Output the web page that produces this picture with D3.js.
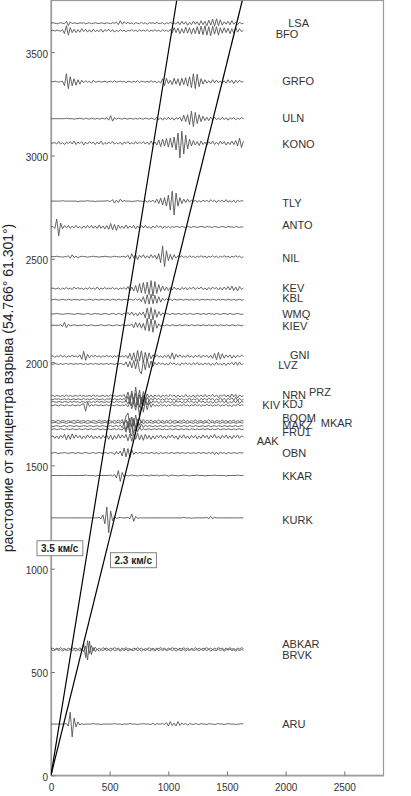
<!DOCTYPE html>
<html><head><meta charset="utf-8">
<script src="https://cdn.jsdelivr.net/npm/d3@7"></script>
<style>
html,body{margin:0;padding:0;background:#fff;}
svg{display:block;font-family:"Liberation Sans",Arial,sans-serif;}
</style></head>
<body><svg id="c" width="411" height="796"></svg>
<script>
// ---- data ----
const xTicks = [0, 500, 1000, 1500, 2000, 2500];
const yTicks = [0, 500, 1000, 1500, 2000, 2500, 3000, 3500];
const velocities = [3.5, 2.3];
const velocityLabels = ["3.5 км/с", "2.3 км/с"];
const velocityLabelPos = [[74, 1099], [701, 1041]]; // [time s, distance km]
const SAMPLE_DT = 16.4; // s per sample
const AMP = 2.4;        // km per amplitude unit

const stationNames = ["LSA","BFO","GRFO","ULN","KONO","TLY","ANTO","NIL","KEV","KBL","WMQ","KIEV","GNI","LVZ","NRN","PRZ","KIV","KDJ","BOOM","MKAR","MAKZ","FRU1","AAK","OBN","KKAR","KURK","ABKAR","BRVK","ARU"];
const stationDist = [3640,3604,3357,3178,3060,2779,2654,2510,2356,2302,2233,2178,2028,1991,1836,1820,1807,1791,1715,1706,1690,1675,1638,1560,1451,1246,613,606,248];
const labelTime = [2022,1915,1971,1971,1971,1971,1971,1971,1971,1971,1971,1971,2037,1937,1971,2199,1801,1971,1971,2299,1971,1971,1753,1971,1971,1971,1971,1971,1971];
const labelDist = [3642,3589,3358,3179,3054,2770,2665,2506,2360,2310,2235,2173,2033,1985,1840,1853,1791,1795,1727,1703,1694,1662,1618,1560,1448,1235,635,582,247];

const tr_LSA = [0,1,0,-1,0,1,0,-1,4,-5, 3,-1,1,0,-1,1,0,1,-1,0, 1,-1,0,1,0,-1,1,0,-1,1, 0,-1,1,0,2,-3,5,-2,3,-1, 2,-1,1,-2,1,0,-1,2,-1,1, -2,1,0,1,-1,2,-1,0,1,-2, 1,-1,2,-1,1,-2,3,-3,4,-2, 3,-4,2,-3,4,-2,3,-4,5,-3, 4,-5,6,-4,8,-6,9,-5,7,-4, 3,-2,4,-3,5,-2,2,-3,2,-1, 0];
const tr_BFO = [0,1,-1,1,0,-1,2,-6,10,-9, 6,-4,3,-4,2,-3,4,-2,3,-3, 2,-3,3,-2,1,-2,3,-3,2,-1, 3,-2,2,-3,1,-2,2,-1,1,-2, 1,-1,2,-1,1,-2,2,-1,1,-1, 2,-2,1,-1,2,-1,1,-2,2,-1, 1,-2,3,-5,6,-4,5,-6,4,-5, 7,-5,6,-7,5,-6,8,-7,9,-8, 10,-9,8,-10,9,-7,8,-9,6,-5, 6,-4,5,-6,4,-5,6,-3,4,-2, 1];
const tr_GRFO = [0,0,1,0,-1,0,1,-8,16,-14, 10,-8,6,-7,4,-5,3,-2,2,-1, 1,-3,3,-1,0,1,-1,0,1,-1, 0,1,-1,2,-1,0,1,-1,1,-2, 1,0,-1,1,-1,2,-2,1,0,-1, 1,-1,2,-1,1,-2,1,-3,6,-8, 7,-4,3,-6,7,-5,6,-8,7,-6, 8,-9,10,-12,16,-14,15,-10,6,-5, 4,-3,2,-3,4,-2,3,-2,1,-3, 2,-3,4,-2,3,-4,3,-2,3,-1, 0];
const tr_ULN = [0,0,0,0,0,0,0,0,1,0, 0,0,-1,0,0,1,0,-1,1,0, -1,1,0,-1,1,-1,0,1,-1,2, -3,6,-5,2,-1,1,0,-1,1,0, -1,1,0,-1,1,-1,1,0,-1,1, 0,-1,1,0,-2,3,-2,2,-3,2, -2,3,-2,2,-3,2,-1,3,-5,7, -6,8,-12,15,-16,13,-10,8,-6,5, -4,3,-4,3,-2,3,-2,1,-2,3, -2,2,-3,2,-1,2,-2,1,-1,2, 0];
const tr_KONO = [0,0,1,-2,3,-2,1,-3,2,-1, 3,-2,4,-3,2,-1,3,-4,2,-2, 3,-1,2,-3,2,-2,4,-3,1,-2, 2,-1,3,-2,1,-2,2,-3,2,-1, 3,-2,1,-2,3,-2,2,-1,3,-2, 2,-3,4,-3,2,-4,6,-7,8,-6, 9,-8,10,-9,12,-14,20,-30,24,-22, 16,-12,8,-6,5,-4,3,-5,4,-3, 2,-4,3,-2,4,-3,2,-3,4,-2, 3,-4,2,-3,4,-3,5,-6,10,-9, 4];
const tr_TLY = [0,0,0,0,0,0,1,0,0,0, 0,0,0,0,-1,0,0,0,0,1, 0,0,0,-1,0,0,0,0,0,1, 0,-1,3,-4,2,-3,4,-1,1,0, 0,0,-1,0,0,1,0,0,-1,1, -2,1,-1,2,-3,4,-5,6,-8,7, -10,12,-18,20,-28,16,-10,7,-5,4, -3,4,-2,2,-1,2,-2,1,-2,2, -1,2,-2,3,-1,2,-3,2,-1,2, -2,3,-2,1,-2,2,-3,2,-1,1, 0];
const tr_ANTO = [0,1,-3,16,-18,8,-4,3,-2,3, -3,2,-2,3,-2,1,-3,2,-2,3, -2,3,-3,2,-3,4,-3,2,-4,3, -5,7,-6,5,-7,4,-3,2,-3,4, -3,2,-2,3,-4,2,-3,3,-2,3, -2,1,-3,2,-2,3,-1,2,-3,2, -2,1,-2,1,-1,1,0,-1,1,0, -1,1,0,-1,1,0,-1,0,1,0, -1,1,0,0,-1,1,0,-1,0,1, 0,-1,1,0,0,-1,1,0,-1,0, 0];
const tr_NIL = [0,0,0,1,0,0,-1,0,0,2, -3,4,-2,1,-2,0,1,0,0,-1, 0,0,1,0,0,-1,0,0,1,0, 0,-1,0,1,0,0,-1,1,0,-1, 3,-5,6,-3,4,-6,3,-2,4,-3, 2,-3,4,-2,3,-5,6,-12,22,-20, 12,-8,5,-6,4,-3,2,-1,2,-2, 1,-2,2,-1,1,-2,1,-1,2,-1, 1,-2,1,-1,2,-1,1,-2,1,-1, 2,-1,1,-2,1,-1,2,-1,1,-2, 0];
const tr_KEV = [0,1,-1,0,1,-2,1,-1,2,-1, 1,-2,3,-1,2,-1,1,-2,1,-1, 2,-1,1,-2,3,-2,1,-1,2,-1, 1,-1,2,-1,1,-2,1,-1,2,-2, 4,-5,3,-5,6,-8,10,-9,12,-10, 13,-12,16,-15,14,-10,8,-6,5,-4, 3,-4,2,-3,3,-2,1,-3,2,-1, 2,-3,2,-1,3,-2,2,-1,3,-2, 1,-3,2,-2,3,-1,2,-3,2,-3, 3,-2,4,-3,5,-4,3,-5,4,-2, 1];
const tr_KBL = [0,0,1,0,-1,0,1,0,-1,1, 0,-1,1,0,0,-1,1,0,-1,0, 1,0,-1,1,0,-1,1,0,-1,1, 0,-1,1,0,-1,1,0,-1,1,0, -1,1,0,-1,2,-1,2,-4,6,-8, 10,-9,11,-8,9,-7,6,-5,3,-2, 2,-1,1,-2,1,0,-1,1,0,-1, 1,0,-1,1,-1,0,1,-1,0,1, -1,1,0,-1,1,0,-1,1,-1,1, 0,-1,1,0,-1,1,-1,0,1,-1, 0];
const tr_WMQ = [0,0,0,1,0,0,-1,0,0,1, 0,0,-1,0,1,0,0,-1,0,1, 0,-1,0,1,0,0,-1,0,1,0, -1,0,1,0,-1,1,0,-2,2,-1, 3,-2,4,-3,2,-4,3,-2,4,-8, 12,-10,13,-12,9,-7,5,-3,2,-1, 1,0,-1,1,0,-1,1,0,-1,1, 0,-1,1,0,-1,0,1,0,-1,1, 0,-1,1,0,0,-1,1,0,-1,0, 1,0,-1,1,0,-1,0,1,0,-1, 0];
const tr_KIEV = [0,0,0,0,0,1,-2,6,-5,2, -1,0,1,0,-1,0,0,1,0,-1, 0,1,0,-1,0,0,1,0,-1,0, 1,0,-1,0,1,0,-1,1,0,-1, 1,-1,3,-5,6,-4,5,-6,4,-10, 14,-12,13,-14,10,-6,3,-2,1,-1, 1,0,-1,1,0,-1,0,1,-1,0, 1,0,-1,1,0,-1,1,0,-1,1, 0,-1,1,0,-1,1,0,-1,1,0, -1,1,0,-1,1,0,-1,1,0,-1, 0];
const tr_GNI = [0,1,-2,1,-1,2,-1,1,-2,1, -1,2,-1,1,-2,3,-6,10,-8,4, -3,2,-1,2,-1,1,-2,1,-1,2, -1,1,-2,1,-1,2,-1,1,-2,2, -4,6,-8,7,-10,12,-9,11,-12,8, -10,7,-5,3,-2,3,-2,1,-3,2, -2,3,-5,7,-6,4,-2,3,-2,1, -2,3,-2,1,-3,2,-1,2,-3,2, -1,2,-3,2,-4,6,-7,8,-6,5, -4,3,-2,3,-4,2,-3,2,-1,2, 0];
const tr_LVZ = [0,-1,1,0,-1,1,-1,0,1,-1, 1,0,-1,1,-1,1,0,-1,1,-1, 0,1,-1,1,0,-1,1,-1,0,1, -1,1,0,-1,1,-1,1,0,-2,4, -6,5,-8,7,-10,9,-14,-20,8,-12, 10,-8,6,-5,3,-2,3,-1,2,-2, 1,-2,3,-1,2,-2,1,-3,2,-1, 2,-1,1,-2,2,-1,3,-2,1,-2, 2,-1,2,-3,1,-2,3,-2,1,-2, 2,-3,2,-1,3,-2,4,-3,4,-2, 1];
const tr_NRN = [0,1,-1,1,0,-1,1,-1,2,-1, 1,-1,0,1,-1,2,-1,1,-1,0, 1,-1,2,-1,1,-1,0,1,-1,1, -1,2,-1,1,-1,0,1,-1,3,-5, 8,-7,10,-12,18,-10,12,-14,9,-6, 4,-3,2,-3,2,-1,2,-3,2,-1, 2,-2,3,-1,2,-3,2,-2,1,-2, 3,-2,1,-2,2,-3,2,-1,2,-2, 3,-2,2,-1,3,-2,2,-3,2,-1, 3,-2,2,-3,4,-2,3,-4,2,-1, 0];
const tr_PRZ = [0,-1,1,0,1,-1,0,1,-1,1, -1,0,1,-1,1,0,-1,2,-1,1, -1,0,2,-1,1,-1,0,1,-2,1, 0,1,-1,1,0,-1,1,-1,2,-4, 6,-9,11,-8,12,-11,9,-10,8,-5, 4,-3,2,-2,3,-1,2,-2,1,-2, 3,-1,2,-2,1,-3,2,-1,2,-2, 1,-2,3,-2,1,-1,2,-3,2,-1, 2,-2,3,-1,2,-3,1,-2,3,-2, 2,-3,2,-1,3,-2,4,-3,2,-2, 0];
const tr_KIV = [0,1,0,-1,1,0,-1,1,0,-1, 1,-1,2,-1,1,-2,1,0,-1,1, 0,-1,1,-1,2,-1,1,0,-1,1, -1,1,0,-1,2,-1,1,-1,0,2, -4,6,-8,9,-10,8,-11,10,-8,7, -6,4,-3,2,-1,2,-3,1,-2,2, -1,2,-2,1,-3,2,-1,2,-2,1, -2,3,-1,2,-2,1,-2,3,-1,2, -2,1,-2,2,-3,1,-2,2,-1,3, -2,2,-3,1,-2,3,-2,4,-3,1, 0];
const tr_KDJ = [0,-1,1,0,-1,1,0,-1,1,0, -1,1,0,-1,1,-1,2,3,-12,6, -2,1,-1,1,0,-1,1,-1,0,1, -1,1,0,-1,1,0,-1,1,-1,2, -3,5,-7,6,-10,8,-22,12,-14,8, -9,6,-4,3,-2,1,-2,2,-1,1, -2,1,-1,2,-1,1,-2,1,-1,2, -1,1,-2,1,-1,2,-1,1,-2,1, -1,2,-1,1,-2,1,-1,2,-2,1, -1,2,-2,1,-3,2,-2,3,-1,1, 0];
const tr_BOOM = [0,1,-1,0,1,-1,1,0,-1,1, -1,0,1,-1,2,-1,0,1,-1,1, 0,-1,1,0,-1,2,-1,0,1,-1, 1,0,-1,1,-1,2,-1,3,-6,10, 16,-12,8,-10,12,-8,6,-4,3,-2, 2,-1,2,-2,1,-1,2,-1,1,-2, 1,-1,2,-1,0,1,-2,1,-1,2, -1,1,-2,1,-1,2,-1,0,1,-2, 1,-1,2,-1,1,-2,1,0,-1,2, -1,1,-2,1,-1,2,-2,1,-1,1, 0];
const tr_MKAR = [0,0,1,0,-1,0,1,0,-1,0, 1,0,-1,0,1,0,-1,1,0,-1, 0,1,0,-1,0,1,-1,0,1,0, -1,0,1,-1,0,1,-1,1,-3,6, -9,10,-8,9,-10,7,-5,4,-2,1, -1,1,0,-1,1,0,-1,1,0,-1, 1,0,-1,1,-1,0,1,0,-1,1, 0,-1,1,0,-1,1,-1,0,1,-1, 0,1,-1,0,1,-1,1,0,-1,1, 0,-1,1,-1,0,1,-1,0,1,0, 0];
const tr_MAKZ = [0,-1,0,1,0,-1,0,1,-1,0, 1,0,-1,1,0,-1,0,1,0,-1, 1,0,-1,0,1,-1,0,1,0,-1, 0,1,-1,0,1,-1,2,-3,5,-8, 10,-12,-20,12,-10,8,-6,4,-3,2, -1,1,0,-1,1,-1,0,1,-1,0, 1,-1,0,1,-1,0,1,0,-1,1, 0,-1,1,0,-1,1,0,-1,0,1, -1,0,1,-1,0,1,-1,1,0,-1, 1,0,-1,1,-1,0,1,-1,0,1, 0];
const tr_FRU1 = [0,0,1,-1,0,1,0,-1,1,0, -1,1,0,-1,0,1,-1,0,1,-1, 0,1,-1,0,1,0,-1,1,-1,0, 1,-1,0,1,-1,1,0,-2,4,-6, 8,-7,9,-8,6,-5,4,-2,1,-1, 0,1,-1,0,1,-1,1,0,-1,1, -1,0,1,-1,0,1,-1,0,1,-1, 1,0,-1,1,0,-1,1,-1,0,1, -1,1,0,-1,1,-1,0,1,-1,0, 1,-1,1,0,-1,1,-1,0,1,-1, 0];
const tr_AAK = [0,2,-3,2,-4,3,-2,5,-6,4, -5,6,-3,4,-2,3,-4,2,-3,4, -2,3,-4,2,-3,2,-4,3,-2,3, -5,4,-6,3,-4,5,-3,4,-2,5, -8,6,-9,7,-5,8,-6,4,-7,5, -4,3,-5,2,-4,3,-2,4,-3,2, -4,3,-2,4,-3,2,-5,3,-2,4, -3,2,-4,3,-2,3,-4,2,-3,4, -2,3,-4,3,-2,5,-3,2,-4,3, -2,4,-3,2,-4,3,-2,4,-3,2, 0];
const tr_OBN = [0,0,1,0,-1,0,0,1,0,-1, 0,1,0,-1,1,0,-1,0,1,0, -1,0,1,-1,0,1,0,-1,1,0, -1,1,0,-3,3,-2,4,-6,10,-8, 9,-10,6,-3,2,-1,1,0,-1,1, 0,-1,1,0,-1,1,-2,1,-1,0, 1,-1,0,1,-1,0,1,-1,1,0, -1,1,0,-1,1,-1,0,1,-1,1, 0,-1,1,-1,2,-3,2,-3,2,-1, 1,-2,1,0,-1,1,0,-1,1,0, 0];
const tr_KKAR = [0,0,0,0,0,0,0,0,0,0, 0,0,0,0,0,0,0,0,1,0, 0,0,0,-1,0,0,0,0,0,0, 0,1,-1,2,-5,10,-12,6,-3,1, -1,0,1,0,0,-1,0,0,1,0, 0,-1,1,0,0,1,-1,0,0,1, 0,-1,0,1,0,0,-1,0,0,1, 0,0,-1,0,0,0,1,0,0,0, -1,0,0,0,0,1,0,0,0,0, 0,-1,0,0,0,0,0,1,0,0, 0];
const tr_KURK = [0,0,0,0,0,0,0,0,0,0, 0,0,0,0,0,0,0,0,0,0, 0,0,0,0,0,1,-2,6,-12,22, -30,14,-6,3,-1,0,1,0,0,0, 1,-2,8,-7,3,-1,0,0,0,0, 0,0,0,0,0,0,0,0,0,0, 0,0,0,0,0,0,0,0,0,1, 0,0,0,-1,0,0,0,0,0,0, 0,1,-2,3,-2,1,0,0,0,0, 0,0,0,0,0,0,0,0,0,0, 0];
const tr_ABKAR = [0,1,-2,1,-1,2,-1,0,-2,1, -1,2,0,1,-2,2,-4,10,-18,16, -10,6,-4,3,-2,1,-2,2,0,1, -2,1,-1,2,0,1,-2,1,-1,2, -1,0,-2,1,-1,2,-1,1,-2,0, -1,2,-1,1,-2,1,0,2,-1,1, -2,1,-1,2,0,1,-2,1,-1,2, -1,1,-2,0,-1,2,-1,1,-2,1, 0,2,-1,1,-2,1,-1,2,0,1, -2,1,-1,2,-1,0,-2,1,-1,2, 0];
const tr_BRVK = [1,-1,0,2,-1,1,-2,1,0,-1, 2,-1,1,-2,1,-1,2,-3,8,-20, 18,-9,5,-3,2,-2,1,-1,2,-1, 1,-2,2,-1,0,1,-2,1,-1,2, -2,1,0,-1,2,-1,1,-2,1,-1, 2,-1,0,1,-2,2,-1,1,-1,2, -1,0,2,-1,1,-2,1,0,-1,2, -2,1,-1,2,-1,0,1,-2,2,-1, 1,-1,2,-2,1,0,-1,2,-1,1, -2,1,0,2,-1,1,-2,1,-1,1, 0];
const tr_ARU = [0,0,0,0,0,0,0,0,1,-4, 24,-26,12,-6,4,-2,1,-1,0,0, 0,0,1,0,0,0,-1,0,0,0, 0,0,0,1,0,0,0,-1,0,0, 0,1,0,0,0,-1,0,0,1,0, 0,0,-1,2,-2,1,0,0,1,-1, 3,-4,5,-3,2,-4,5,-3,2,-1, 1,-2,1,0,-1,1,0,-1,1,0, 0,-1,1,0,0,-1,0,1,0,0, -1,0,1,0,0,0,-1,0,0,1, 0];

const traceList = [tr_LSA,tr_BFO,tr_GRFO,tr_ULN,tr_KONO,tr_TLY,tr_ANTO,tr_NIL,tr_KEV,tr_KBL,tr_WMQ,tr_KIEV,tr_GNI,tr_LVZ,tr_NRN,tr_PRZ,tr_KIV,tr_KDJ,tr_BOOM,tr_MKAR,tr_MAKZ,tr_FRU1,tr_AAK,tr_OBN,tr_KKAR,tr_KURK,tr_ABKAR,tr_BRVK,tr_ARU];

// ---- layout ----
const svg = d3.select("#c");
const L = 51, R = 383.5, T = 0.5, B = 775.3;
const x = d3.scaleLinear().domain([0, 2834]).range([L, R]);
const y = d3.scaleLinear().domain([0, 3750]).range([B, T]);

svg.append("defs").append("clipPath").attr("id","clip")
  .append("rect").attr("x",L).attr("y",T).attr("width",R-L).attr("height",B-T);

// frame
svg.append("rect").attr("x",L).attr("y",T).attr("width",R-L).attr("height",B-T)
  .attr("fill","none").attr("stroke","#9a9a9a").attr("stroke-width",1.2);

// axes
const fmt = d3.format("d");
const xa = svg.append("g").attr("transform",`translate(0,${B})`)
  .call(d3.axisBottom(x).tickValues(xTicks).tickFormat(fmt).tickSizeInner(-4).tickSizeOuter(0).tickPadding(9));
const ya = svg.append("g").attr("transform",`translate(${L},0)`)
  .call(d3.axisLeft(y).tickValues(yTicks).tickFormat(fmt).tickSizeInner(-4).tickSizeOuter(0).tickPadding(3));
[xa, ya].forEach(g => {
  g.select(".domain").attr("stroke","#9a9a9a").attr("stroke-width",1.2);
  g.selectAll(".tick line").attr("stroke","#777");
  g.selectAll(".tick text").attr("fill","#333").attr("font-size",10)
    .attr("font-family","'Liberation Sans',Arial,sans-serif");
});
ya.selectAll(".tick text").attr("dy","0.5em");

// traces
const line = d3.line().x((v,i) => x(i*SAMPLE_DT));
const gT = svg.append("g").attr("clip-path","url(#clip)");
traceList.forEach((tr, k) => {
  const d0 = stationDist[k];
  gT.append("path")
    .attr("d", line.y(v => y(d0 + v*AMP))(tr))
    .attr("fill","none").attr("stroke","#555").attr("stroke-width",0.9)
    .attr("stroke-linejoin","round");
});

// velocity lines
const yMax = y.domain()[1];
const gV = svg.append("g").attr("clip-path","url(#clip)");
velocities.forEach(v => {
  const t1 = yMax / v;
  gV.append("line")
    .attr("x1",x(0)).attr("y1",y(0)).attr("x2",x(t1)).attr("y2",y(v*t1))
    .attr("stroke","#000").attr("stroke-width",1.2);
});

// velocity labels
velocityLabels.forEach((s, k) => {
  const [t, d] = velocityLabelPos[k];
  const g = svg.append("g");
  const txt = g.append("text").attr("x",x(t)).attr("y",y(d))
    .attr("text-anchor","middle").attr("dominant-baseline","central")
    .attr("font-size",10).attr("font-weight","bold").attr("fill","#222").text(s);
  const bb = txt.node().getBBox();
  g.insert("rect","text").attr("x",bb.x-4).attr("y",bb.y-2)
    .attr("width",bb.width+8).attr("height",bb.height+4)
    .attr("fill","#fff").attr("stroke","#777").attr("stroke-width",0.9);
});

// station labels
stationNames.forEach((n, k) => {
  svg.append("text").attr("x",x(labelTime[k])).attr("y",y(labelDist[k]))
    .attr("dominant-baseline","central").attr("font-size",11).attr("fill","#333").text(n);
});

// y axis title
svg.append("text").attr("transform","translate(13,388) rotate(-90)")
  .attr("text-anchor","middle").attr("font-size",14).attr("fill","#222")
  .text("расстояние от эпицентра взрыва (54.766° 61.301°)");
</script></body></html>
